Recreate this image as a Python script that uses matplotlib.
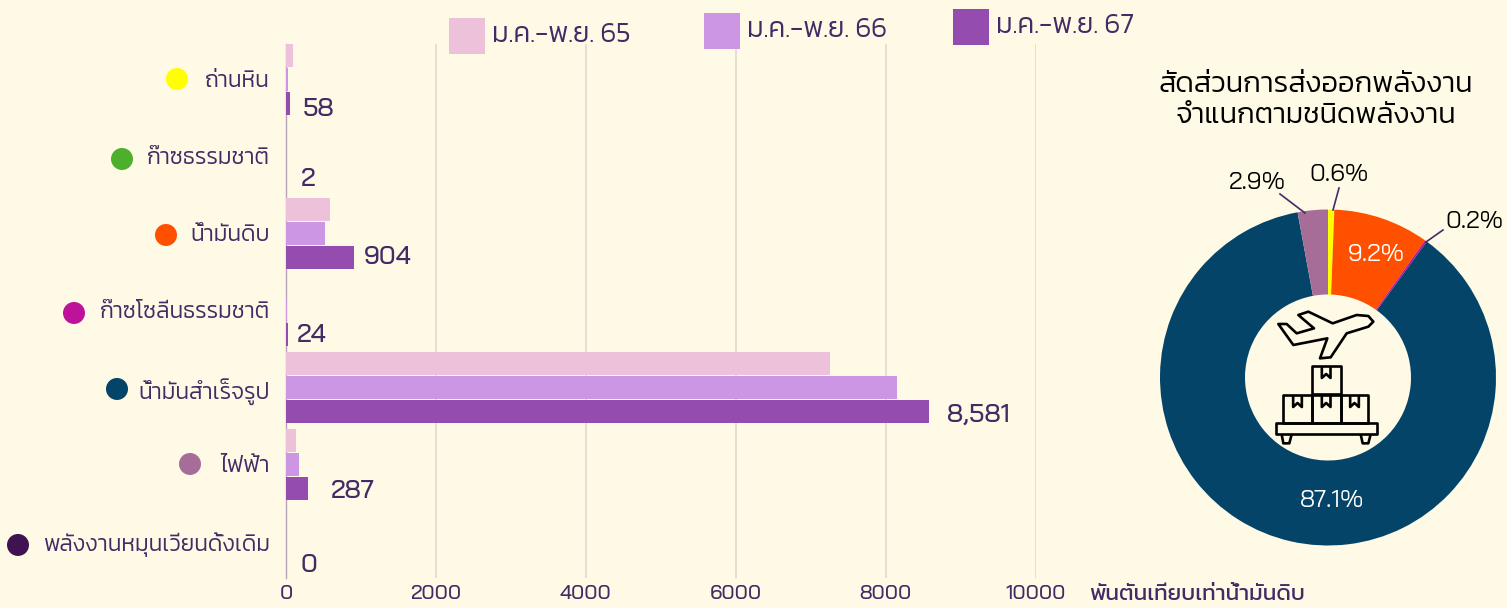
import matplotlib
matplotlib.use("Agg")
import matplotlib.pyplot as plt
from matplotlib.patches import Rectangle, Polygon
from matplotlib.transforms import blended_transform_factory

plt.rcParams['font.family'] = ['Kanit', 'Loma', 'Noto Sans', 'DejaVu Sans']
plt.rcParams['font.weight'] = 300
NUM_FONT = ['Bai Jamjuree', 'Noto Sans', 'DejaVu Sans']

# data
categories = ["ถ่านหิน", "ก๊าซธรรมชาติ", "น้ำมันดิบ", "ก๊าซโซลีนธรรมชาติ", "น้ำมันสำเร็จรูป", "ไฟฟ้า", "พลังงานหมุนเวียนดั้งเดิม"]
y65 = [100, 0, 581, 0, 7256, 140, 0]
y66 = [30, 0, 527, 12, 8150, 167, 0]
y67 = [58, 2, 904, 24, 8581, 287, 0]
series_names = ["ม.ค.-พ.ย. 65", "ม.ค.-พ.ย. 66", "ม.ค.-พ.ย. 67"]
value_labels = ["58", "2", "904", "24", "8,581", "287", "0"]
share_values = [0.6, 9.2, 0.2, 87.1, 2.9]
share_labels = ["0.6%", "9.2%", "0.2%", "87.1%", "2.9%"]

BG = "#FFFAE5"
TXT = "#432C66"
W, H = 1507, 608
bar_colors = ["#EEC1DA", "#CC96E4", "#944CAE"]
dot_colors = ["#FFFF00", "#4CB02C", "#FF5000", "#BE129B", "#044469", "#A66D98", "#3F1351"]
pie_colors = ["#FFFF00", "#FF5000", "#BE129B", "#044469", "#A66D98"]

fig = plt.figure(figsize=(W / 100, H / 100), dpi=100, facecolor=BG)

# bars
ax = fig.add_axes([286 / W, (H - 578) / H, 749.5 / W, 534 / H], facecolor="none")
ypos = list(range(len(categories)))
for k, vals in enumerate([y65, y66, y67]):
    ax.barh([p + (k - 1) * 24 / 77 for p in ypos], vals, height=23 / 77, color=bar_colors[k], zorder=3)
ax.set_xlim(0, 10000)
ax.set_ylim(6.468, -0.4675)
ax.set_xticks([0, 2000, 4000, 6000, 8000, 10000])
ax.set_yticks(ypos)
ax.set_yticklabels(categories, fontsize=16.4)
ax.tick_params(axis="both", length=0, colors=TXT)
ax.tick_params(axis="y", pad=11.5)
ax.tick_params(axis="x", pad=5, labelsize=14.5)
for t in ax.get_xticklabels():
    t.set_family(NUM_FONT)
    t.set_fontweight(500)
ax.grid(axis="x", color="#DDD7CA", linewidth=1.1, zorder=0)
for s in ["top", "right", "bottom"]:
    ax.spines[s].set_visible(False)
ax.spines["left"].set_color("#B7A3B8")
ax.spines["left"].set_linewidth(1)
ax.spines["left"].set_zorder(2)

# coloured dots next to the category names
dot_x = [177, 122, 166, 74, 117, 190, 18]
dot_off = [-1, 2, 1, 2, 1, -1, 3]
tr = blended_transform_factory(fig.transFigure, ax.transData)
ax.scatter([x / W for x in dot_x], [p + d / 77 for p, d in zip(ypos, dot_off)], s=251, c=dot_colors,
           transform=tr, clip_on=False, linewidths=0, zorder=5)

# pie
pax = fig.add_axes([(1328 - 168) / W, (H - 377.5 - 168) / H, 336 / W, 336 / H])
pax.pie(share_values, colors=pie_colors, startangle=90, counterclock=False, radius=1,
        wedgeprops={"width": 85 / 168, "linewidth": 0})
pax.set_xlim(-1, 1)
pax.set_ylim(-1, 1)

# everything placed in picture pixels
ov = fig.add_axes([0, 0, 1, 1], facecolor="none")
ov.set_xlim(0, W)
ov.set_ylim(H, 0)
ov.axis("off")

label_x = [303, 301, 364, 297, 947, 331, 301]
label_y = [110, 179, 258, 336, 415, 491, 565]
for t, x, y in zip(value_labels, label_x, label_y):
    ov.text(x, y, t, color=TXT, fontsize=18.5, ha="left", va="center", family=NUM_FONT, fontweight=500)

ov.text(1089, 595, "พันตันเทียบเท่าน้ำมันดิบ", color=TXT, fontsize=16.2, fontweight=400, ha="left", va="center")

# legend
leg_x = [449, 704, 953]
leg_y = [18, 13, 9]
for name, c, x, y in zip(series_names, bar_colors, leg_x, leg_y):
    ov.add_patch(Rectangle((x, y), 36, 36, color=c, lw=0))
    ov.text(x + 43, y + 17, name, color=TXT, fontsize=20, ha="left", va="center")

# pie title
ov.text(1316, 85, "สัดส่วนการส่งออกพลังงาน", color="black", fontsize=21, ha="center", va="center")
ov.text(1316, 116, "จำแนกตามชนิดพลังงาน", color="black", fontsize=21, ha="center", va="center")

# pie labels
share_x = [1339, 1376, 1474, 1332, 1257]
share_y = [175, 255, 222, 501, 183]
share_col = ["black", "white", "black", "white", "black"]
for t, x, y, c in zip(share_labels, share_x, share_y, share_col):
    ov.text(x, y, t, color=c, fontsize=17.5, ha="center", va="center", family=NUM_FONT, fontweight=400)
ov.plot([1305, 1280], [213, 194], color=TXT, lw=1.2)
ov.plot([1333, 1339], [210, 188], color=TXT, lw=1.2)
ov.plot([1426, 1443], [242, 230], color=TXT, lw=1.2)


# icon, traced in a 3x crop whose corner is at (1240, 300)
def ix(pts):
    return [(1240 + a / 3, 300 + b / 3) for a, b in pts]


icon_kw = dict(fill=False, edgecolor="black", lw=1.9, joinstyle="round")
plane = [(115, 72), (140, 72), (170, 100), (222, 85), (175, 45), (205, 35), (278, 70), (350, 45), (385, 48),
         (400, 65), (385, 80), (320, 100), (272, 172), (240, 175), (262, 115), (160, 135)]
ov.add_patch(Polygon(ix(plane), closed=True, **icon_kw))
for bx, by, bw, bh in [(215, 198, 87, 85), (130, 285, 85, 83), (215, 285, 87, 83), (302, 285, 83, 83)]:
    ov.add_patch(Polygon(ix([(bx, by), (bx + bw, by), (bx + bw, by + bh), (bx, by + bh)]), closed=True, **icon_kw))
    mid = bx + bw / 2
    ov.add_patch(Polygon(ix([(mid - 13, by), (mid - 13, by + 36), (mid, by + 24), (mid + 13, by + 36), (mid + 13, by)]),
                         closed=False, **icon_kw))
ov.add_patch(Polygon(ix([(108, 368), (410, 368), (410, 403), (108, 403)]), closed=True, **icon_kw))
ov.add_patch(Polygon(ix([(125, 403), (130, 430), (148, 430), (155, 403)]), closed=False, **icon_kw))
ov.add_patch(Polygon(ix([(362, 403), (368, 430), (385, 430), (392, 403)]), closed=False, **icon_kw))

fig.savefig("out.png", dpi=100, facecolor=BG)
